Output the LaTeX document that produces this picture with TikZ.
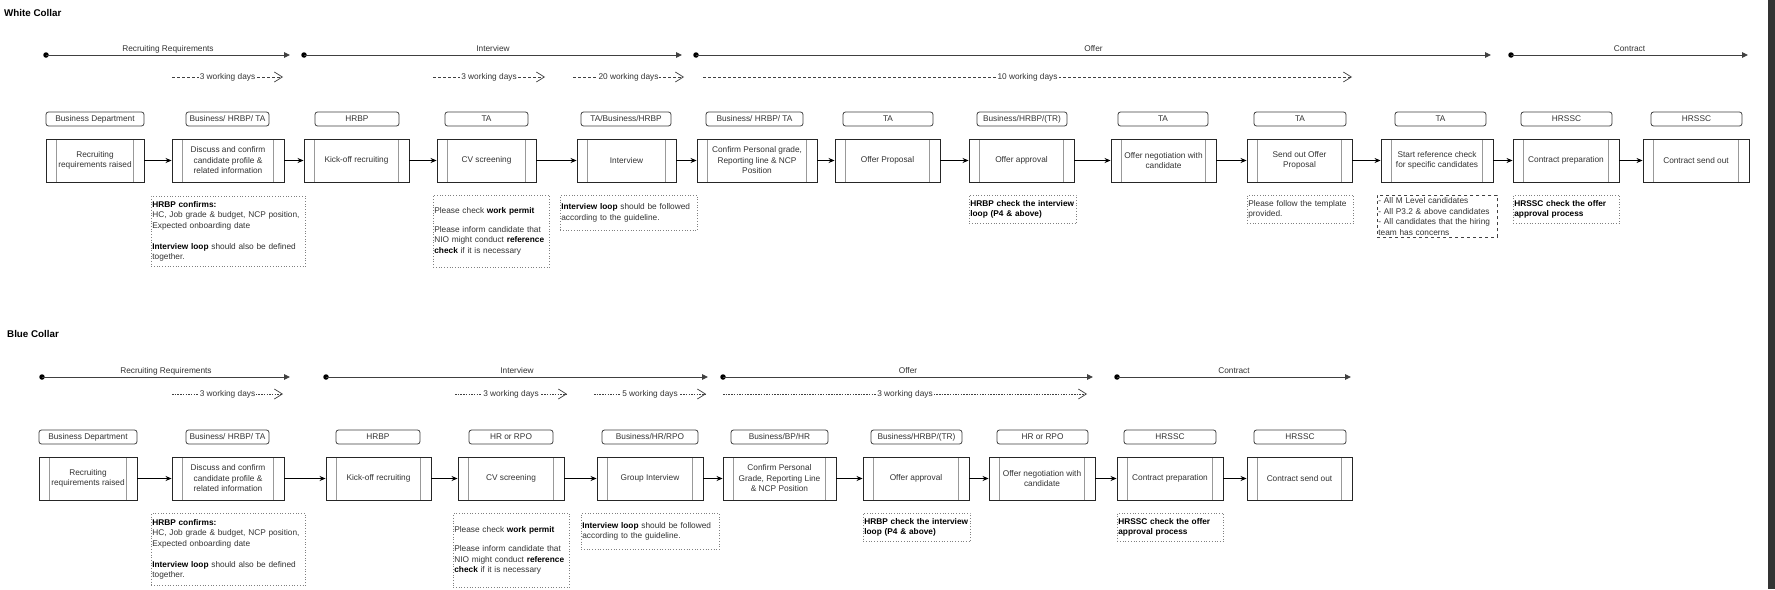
\documentclass[tikz,border=0pt]{standalone}
\usepackage{fontspec}
\setmainfont{Liberation Sans}
\usetikzlibrary{arrows.meta}

\definecolor{txt}{HTML}{333333}
\definecolor{ln}{HTML}{404040}
\newcommand{\fs}{\fontsize{8.3}{10.5}\selectfont}

\begin{document}
\begin{tikzpicture}[x=1pt,y=1pt]
        \tikzstyle{every node}+=[inner sep=0pt, text=txt, font=\fs]
        \tikzstyle{sect}=[font={\fontsize{9.8}{12}\selectfont\bfseries}, text=black, anchor=west]
        \tikzstyle{dot}=[circle, fill=black, minimum size=5.5pt]
        \tikzstyle{phase}=[draw=ln, line width=0.9pt, -{Triangle[length=6pt,width=5.5pt]}]
        \tikzstyle{phaselbl}=[midway, anchor=base, yshift=4pt]
        \tikzstyle{dur}=[draw=ln, line width=0.7pt, dash pattern=on 3pt off 2pt, -{Straight Barb[length=8pt,width=10pt]}]
        \tikzstyle{durdot}=[dur, dash pattern=on 1.5pt off 1.2pt]
        \tikzstyle{durlbl}=[midway, anchor=base, yshift=-2.5pt, fill=white, inner xsep=1pt]
        \tikzstyle{role}=[draw=ln, line width=0.8pt, rounded corners=2.5pt, minimum height=14pt]
        \tikzstyle{proc}=[draw=black!85, line width=0.9pt, minimum height=43pt, align=center,
          path picture={\draw[gray!80, line width=0.9pt]
            ([xshift=10.5pt]path picture bounding box.north west) -- ([xshift=10.5pt]path picture bounding box.south west)
            ([xshift=-10.5pt]path picture bounding box.north east) -- ([xshift=-10.5pt]path picture bounding box.south east);}]
        \tikzstyle{flow}=[draw=black, line width=0.8pt, -{Stealth[length=6pt,width=5pt]}]
        \tikzstyle{note}=[draw=gray, dotted, line width=0.7pt, anchor=north west, align=left, inner xsep=1pt]
        \tikzstyle{notedash}=[note, draw=ln, dashed]

        \useasboundingbox (0,0) rectangle (1775,-589);
        \fill [white] (0,0) rectangle (1775,-589);
        \fill [black!80] (1768,0) rectangle (1775,-589);

        % ---- White Collar
        \node[sect] (wtitle) at (4,-13) {White Collar};

        \node[dot] (wa1) at (46,-55) {};
        \coordinate (wb1) at (290,-55);
        \node[dot] (wa2) at (304,-55) {};
        \coordinate (wb2) at (682,-55);
        \node[dot] (wa3) at (696,-55) {};
        \coordinate (wb3) at (1491,-55);
        \node[dot] (wa4) at (1511,-55) {};
        \coordinate (wb4) at (1748,-55);
        \draw[phase] (wa1.center) -- node[phaselbl] (wl1) {Recruiting Requirements} (wb1);
        \draw[phase] (wa2.center) -- node[phaselbl] (wl2) {Interview} (wb2);
        \draw[phase] (wa3.center) -- node[phaselbl] (wl3) {Offer} (wb3);
        \draw[phase] (wa4.center) -- node[phaselbl] (wl4) {Contract} (wb4);

        \coordinate (wc1) at (172,-77);
        \coordinate (wd1) at (283,-77);
        \coordinate (wc2) at (433,-77);
        \coordinate (wd2) at (545,-77);
        \coordinate (wc3) at (573,-77);
        \coordinate (wd3) at (684,-77);
        \coordinate (wc4) at (703,-77);
        \coordinate (wd4) at (1352,-77);
        \draw[dur] (wc1) -- node[durlbl] (wt1) {3 working days} (wd1);
        \draw[dur] (wc2) -- node[durlbl] (wt2) {3 working days} (wd2);
        \draw[dur] (wc3) -- node[durlbl] (wt3) {20 working days} (wd3);
        \draw[dur] (wc4) -- node[durlbl] (wt4) {10 working days} (wd4);

        \node[role, minimum width=98pt] (wr1) at (95,-119) {Business Department};
        \node[role, minimum width=83pt] (wr2) at (227.5,-119) {Business/ HRBP/ TA};
        \node[role, minimum width=84pt] (wr3) at (357,-119) {HRBP};
        \node[role, minimum width=83pt] (wr4) at (486.5,-119) {TA};
        \node[role, minimum width=90pt] (wr5) at (626,-119) {TA/Business/HRBP};
        \node[role, minimum width=97pt] (wr6) at (754.5,-119) {Business/ HRBP/ TA};
        \node[role, minimum width=90pt] (wr7) at (888,-119) {TA};
        \node[role, minimum width=90pt] (wr8) at (1022,-119) {Business/HRBP/(TR)};
        \node[role, minimum width=90pt] (wr9) at (1163,-119) {TA};
        \node[role, minimum width=92pt] (wr10) at (1300,-119) {TA};
        \node[role, minimum width=91pt] (wr11) at (1440.5,-119) {TA};
        \node[role, minimum width=91pt] (wr12) at (1566.5,-119) {HRSSC};
        \node[role, minimum width=91pt] (wr13) at (1696.5,-119) {HRSSC};

        \node[proc, minimum width=98pt] (wp1) at (95,-160.5) {Recruiting\\requirements raised};
        \node[proc, minimum width=112pt] (wp2) at (228,-160.5) {Discuss and confirm\\candidate profile \&\\related information};
        \node[proc, minimum width=105pt] (wp3) at (356.5,-160.5) {Kick-off recruiting};
        \node[proc, minimum width=99pt] (wp4) at (486.5,-160.5) {CV screening};
        \node[proc, minimum width=99pt] (wp5) at (626.5,-160.5) {Interview};
        \node[proc, minimum width=120pt] (wp6) at (757,-160.5) {Confirm Personal grade,\\Reporting line \& NCP\\Position};
        \node[proc, minimum width=105pt] (wp7) at (887.5,-160.5) {Offer Proposal};
        \node[proc, minimum width=105pt] (wp8) at (1021.5,-160.5) {Offer approval};
        \node[proc, minimum width=105pt] (wp9) at (1163.5,-160.5) {Offer negotiation with\\candidate};
        \node[proc, minimum width=105pt] (wp10) at (1299.5,-160.5) {Send out Offer\\Proposal};
        \node[proc, minimum width=112pt] (wp11) at (1437,-160.5) {Start reference check\\for specific candidates};
        \node[proc, minimum width=106pt] (wp12) at (1566,-160.5) {Contract preparation};
        \node[proc, minimum width=106pt] (wp13) at (1696,-160.5) {Contract send out};

        \draw[flow] (wp1) -- (wp2);
        \draw[flow] (wp2) -- (wp3);
        \draw[flow] (wp3) -- (wp4);
        \draw[flow] (wp4) -- (wp5);
        \draw[flow] (wp5) -- (wp6);
        \draw[flow] (wp6) -- (wp7);
        \draw[flow] (wp7) -- (wp8);
        \draw[flow] (wp8) -- (wp9);
        \draw[flow] (wp9) -- (wp10);
        \draw[flow] (wp10) -- (wp11);
        \draw[flow] (wp11) -- (wp12);
        \draw[flow] (wp12) -- (wp13);

        \node[note, text width=152pt, minimum height=70pt] (wn1) at (151,-196)
          {\textcolor{black}{\bfseries HRBP confirms:}\\HC, Job grade \& budget, NCP position,\\Expected onboarding date\\[10.5pt]
           \textcolor{black}{\bfseries Interview loop} should also be defined\\together.};
        \node[note, text width=114pt, minimum height=72pt] (wn2) at (433,-195)
          {Please check \textcolor{black}{\bfseries work permit}\\[8.5pt]Please inform candidate that\\NIO might conduct \textcolor{black}{\bfseries reference}\\
           \textcolor{black}{\bfseries check} if it is necessary};
        \node[note, text width=135pt, minimum height=35pt] (wn3) at (560,-195)
          {\textcolor{black}{\bfseries Interview loop} should be followed\\according to the guideline.};
        \node[note, text width=105pt, minimum height=28pt, text=black, font=\fs\bfseries] (wn4) at (969,-195)
          {HRBP check the interview\\loop (P4 \& above)};
        \node[note, text width=104pt, minimum height=28pt] (wn5) at (1247,-195)
          {Please follow the template\\provided.};
        \node[notedash, text width=118pt, minimum height=42pt] (wn6) at (1377,-195)
          {- All M Level candidates\\- All P3.2 \& above candidates\\- All candidates that the hiring\\team has concerns};
        \node[note, text width=104pt, minimum height=28pt, text=black, font=\fs\bfseries] (wn7) at (1513,-195)
          {HRSSC check the offer\\approval process};

        % ---- Blue Collar
        \node[sect] (btitle) at (7,-334) {Blue Collar};

        \node[dot] (ba1) at (42,-377) {};
        \coordinate (bb1) at (290,-377);
        \node[dot] (ba2) at (326,-377) {};
        \coordinate (bb2) at (708,-377);
        \node[dot] (ba3) at (723,-377) {};
        \coordinate (bb3) at (1093,-377);
        \node[dot] (ba4) at (1117,-377) {};
        \coordinate (bb4) at (1351,-377);
        \draw[phase] (ba1.center) -- node[phaselbl] (bl1) {Recruiting Requirements} (bb1);
        \draw[phase] (ba2.center) -- node[phaselbl] (bl2) {Interview} (bb2);
        \draw[phase] (ba3.center) -- node[phaselbl] (bl3) {Offer} (bb3);
        \draw[phase] (ba4.center) -- node[phaselbl] (bl4) {Contract} (bb4);

        \coordinate (bc1) at (172,-394);
        \coordinate (bd1) at (283,-394);
        \coordinate (bc2) at (455,-394);
        \coordinate (bd2) at (567,-394);
        \coordinate (bc3) at (594,-394);
        \coordinate (bd3) at (706,-394);
        \coordinate (bc4) at (723,-394);
        \coordinate (bd4) at (1087,-394);
        \draw[durdot] (bc1) -- node[durlbl] (bt1) {3 working days} (bd1);
        \draw[durdot] (bc2) -- node[durlbl] (bt2) {3 working days} (bd2);
        \draw[durdot] (bc3) -- node[durlbl] (bt3) {5 working days} (bd3);
        \draw[durdot] (bc4) -- node[durlbl] (bt4) {3 working days} (bd4);

        \node[role, minimum width=98pt] (br1) at (88,-437) {Business Department};
        \node[role, minimum width=83pt] (br2) at (227.5,-437) {Business/ HRBP/ TA};
        \node[role, minimum width=84pt] (br3) at (378,-437) {HRBP};
        \node[role, minimum width=84pt] (br4) at (511,-437) {HR or RPO};
        \node[role, minimum width=96pt] (br5) at (650,-437) {Business/HR/RPO};
        \node[role, minimum width=97pt] (br6) at (779.5,-437) {Business/BP/HR};
        \node[role, minimum width=91pt] (br7) at (916.5,-437) {Business/HRBP/(TR)};
        \node[role, minimum width=91pt] (br8) at (1042.5,-437) {HR or RPO};
        \node[role, minimum width=92pt] (br9) at (1170,-437) {HRSSC};
        \node[role, minimum width=92pt] (br10) at (1300,-437) {HRSSC};

        \node[proc, minimum width=98pt] (bp1) at (88,-478.5) {Recruiting\\requirements raised};
        \node[proc, minimum width=112pt] (bp2) at (228,-478.5) {Discuss and confirm\\candidate profile \&\\related information};
        \node[proc, minimum width=105pt] (bp3) at (378.5,-478.5) {Kick-off recruiting};
        \node[proc, minimum width=106pt] (bp4) at (511,-478.5) {CV screening};
        \node[proc, minimum width=106pt] (bp5) at (650,-478.5) {Group Interview};
        \node[proc, minimum width=113pt] (bp6) at (779.5,-478.5) {Confirm Personal\\Grade, Reporting Line\\\& NCP Position};
        \node[proc, minimum width=106pt] (bp7) at (916,-478.5) {Offer approval};
        \node[proc, minimum width=106pt] (bp8) at (1042,-478.5) {Offer negotiation with\\candidate};
        \node[proc, minimum width=106pt] (bp9) at (1170,-478.5) {Contract preparation};
        \node[proc, minimum width=105pt] (bp10) at (1299.5,-478.5) {Contract send out};

        \draw[flow] (bp1) -- (bp2);
        \draw[flow] (bp2) -- (bp3);
        \draw[flow] (bp3) -- (bp4);
        \draw[flow] (bp4) -- (bp5);
        \draw[flow] (bp5) -- (bp6);
        \draw[flow] (bp6) -- (bp7);
        \draw[flow] (bp7) -- (bp8);
        \draw[flow] (bp8) -- (bp9);
        \draw[flow] (bp9) -- (bp10);

        \node[note, text width=152pt, minimum height=72pt] (bn1) at (151,-513)
          {\textcolor{black}{\bfseries HRBP confirms:}\\HC, Job grade \& budget, NCP position,\\Expected onboarding date\\[10.5pt]
           \textcolor{black}{\bfseries Interview loop} should also be defined\\together.};
        \node[note, text width=114pt, minimum height=74pt] (bn2) at (453,-513)
          {Please check \textcolor{black}{\bfseries work permit}\\[8.5pt]Please inform candidate that\\NIO might conduct \textcolor{black}{\bfseries reference}\\
           \textcolor{black}{\bfseries check} if it is necessary};
        \node[note, text width=136pt, minimum height=36pt] (bn3) at (581,-513)
          {\textcolor{black}{\bfseries Interview loop} should be followed\\according to the guideline.};
        \node[note, text width=105pt, minimum height=28pt, text=black, font=\fs\bfseries] (bn4) at (863,-513)
          {HRBP check the interview\\loop (P4 \& above)};
        \node[note, text width=104pt, minimum height=28pt, text=black, font=\fs\bfseries] (bn5) at (1117,-513)
          {HRSSC check the offer\\approval process};
\end{tikzpicture}
\end{document}
